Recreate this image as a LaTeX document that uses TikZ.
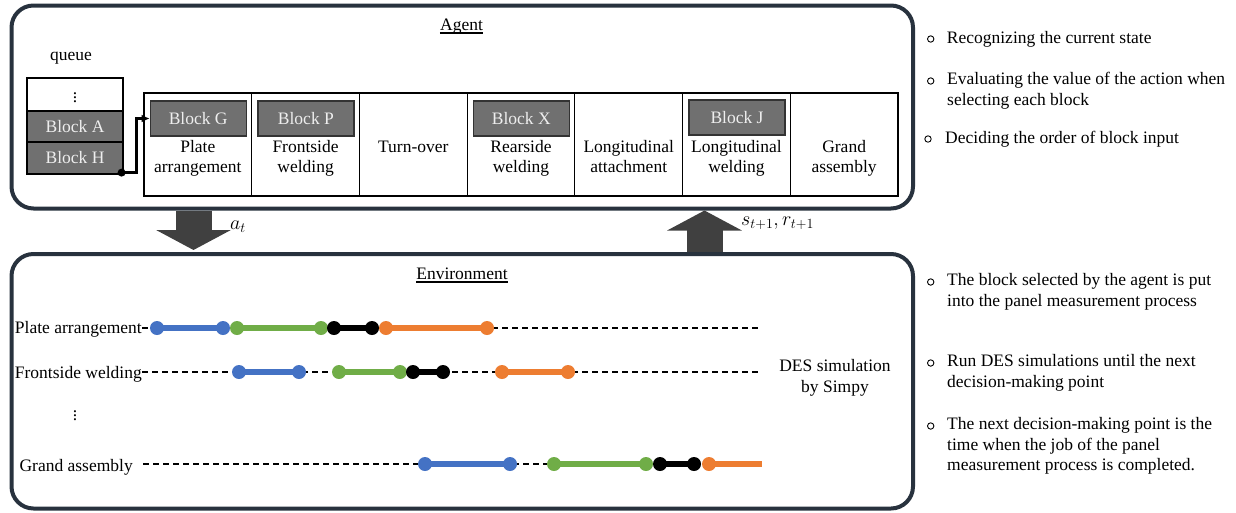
\RequirePackage{fix-cm}
\documentclass[tikz,border=0pt]{standalone}
\usepackage{fontspec}
\setmainfont{Liberation Serif}
\usetikzlibrary{arrows.meta,calc}
\newcommand\myfs{\fontsize{17.5}{20.5}\selectfont}
\newcommand\mathfs{\fontsize{20}{24}\selectfont}
\definecolor{panelc}{RGB}{40,50,62}
\definecolor{arrc}{RGB}{64,64,64}
\definecolor{blkfill}{RGB}{112,112,112}
\definecolor{blktext}{RGB}{238,238,238}
\definecolor{tblue}{RGB}{68,114,196}
\definecolor{tgreen}{RGB}{112,173,71}
\definecolor{torange}{RGB}{237,125,49}
\newcommand\tlseg[4]{%
  \draw[line width=5.5pt,#1] (#2,#4) -- (#3,#4);
  \fill[#1] (#2,#4) circle[radius=7pt] (#3,#4) circle[radius=7pt];}
\begin{document}
\begin{tikzpicture}[x=1pt,y=-1pt,
  panel/.style={draw=panelc, line width=4pt, rounded corners=22pt, inner sep=0pt},
  txt1/.style={font=\myfs, inner sep=0pt, text height=14.35pt, text depth=6.15pt},
  mtxt/.style={font=\mathfs, inner sep=0pt},
  txtm/.style={font=\myfs, inner sep=0pt, align=center},
  rtxt/.style={font=\myfs, inner sep=0pt, align=left, anchor=west},
  qcell/.style={draw, line width=1.2pt, minimum width=96pt, inner sep=0pt, font=\myfs},
  gblk/.style={draw=black!80, line width=1.2pt, fill=blkfill, text=blktext, minimum width=96pt, minimum height=35pt, inner sep=0pt, font=\myfs},
  col/.style={draw, line width=1.2pt, minimum width=107.71pt, minimum height=103pt, inner sep=0pt},
  bigarrow/.style={arrc, line width=36pt, -{Triangle[length=20pt,width=74pt]}},
  dashline/.style={line width=1.2pt, dash pattern=on 6pt off 4pt},
  uline/.style={line width=1.2pt},
  bul/.style={line width=0.9pt}
]
\useasboundingbox (0,0) rectangle (1236,512);

% panels
\node[panel, minimum width=901.5pt, minimum height=203pt] (agent) at (462.25,107) {};
\node[panel, minimum width=901.5pt, minimum height=254.5pt] (env) at (462.25,381.25) {};
\node[txt1] (tA) at (461.5,25.9) {Agent};
\node[txt1] (tE) at (462,274.9) {Environment};
\draw[uline] ($(tA.base west)+(0,3)$) -- ($(tA.base east)+(0,3)$);
\draw[uline] ($(tE.base west)+(0,3)$) -- ($(tE.base east)+(0,3)$);

% queue
\node[txt1] (ql) at (71,55.9) {queue};
\node[qcell, minimum height=33pt, fill=white] (q0) at (75,94.5) {$\vdots$};
\node[qcell, minimum height=31pt, fill=blkfill, text=blktext] (qA) at (75,126.5) {Block A};
\node[qcell, minimum height=32pt, fill=blkfill, text=blktext] (qH) at (75,158) {Block H};

% process table
\node[col] (c1) at (197.86,144.5) {};
\node[col] (c2) at (305.57,144.5) {};
\node[col] (c3) at (413.29,144.5) {};
\node[col] (c4) at (521.00,144.5) {};
\node[col] (c5) at (628.71,144.5) {};
\node[col] (c6) at (736.43,144.5) {};
\node[col] (c7) at (844.14,144.5) {};

\node[gblk] (bG) at (198.2,118.5) {Block G};
\node[gblk] (bP) at (305.9,118.5) {Block P};
\node[gblk] (bX) at (521.3,118.5) {Block X};
\node[gblk] (bJ) at (737.0,117.5) {Block J};

\node[txtm] (p1) at (197.86,158.3) {\strut Plate\\arrangement\strut};
\node[txtm] (p2) at (305.57,158.3) {\strut Frontside\\welding\strut};
\node[txt1] (p3) at (413.29,147.9) {Turn-over};
\node[txtm] (p4) at (521.00,158.3) {\strut Rearside\\welding\strut};
\node[txtm] (p5) at (628.71,158.3) {\strut Longitudinal\\attachment\strut};
\node[txtm] (p6) at (736.43,158.3) {\strut Longitudinal\\welding\strut};
\node[txtm] (p7) at (844.14,158.3) {\strut Grand\\assembly\strut};

% queue arrow
\coordinate (hs) at ($(qH.south east)+(-2,-2)$);
\fill (hs) circle[radius=4pt];
\draw[line width=2.8pt, -{Latex[length=8pt,width=8pt]}] (hs) -- ++(15,0) |- (bG.west);

% big arrows
\coordinate (ax) at (193.5,0);
\coordinate (bx) at (704.5,0);
\draw[bigarrow, shorten >=2pt] (ax |- agent.south) -- (ax |- env.north);
\draw[bigarrow] (bx |- env.north) -- (bx |- agent.south);
\node[mtxt, anchor=base west] (at) at (230,229) {$a_t$};
\node[mtxt, anchor=base west] (sr) at (741,225) {$s_{t+1},r_{t+1}$};

% environment timelines
\coordinate (e1) at (760,328);
\coordinate (e2) at (760,372);
\coordinate (e3) at (762,464);
\node[txt1, anchor=east] (l1) at (142,328.9) {Plate arrangement};
\node[txt1, anchor=east] (l2) at (142,373.9) {Frontside welding};
\node[txt1] (vd) at (75,416) {$\vdots$};
\node[txt1, anchor=east] (l3) at (133,466.9) {Grand assembly};
\draw[dashline] (l1.east |- e1) -- (e1);
\draw[dashline] (l2.east |- e2) -- (e2);
\draw[dashline] ($(l3.east |- e3)+(10,0)$) -- (e3);

\tlseg{tblue}{157}{223}{328}
\tlseg{tgreen}{237}{321}{328}
\tlseg{black}{334}{372}{328}
\tlseg{torange}{386}{487}{328}

\tlseg{tblue}{239}{299}{372}
\tlseg{tgreen}{339}{400}{372}
\tlseg{black}{413}{443}{372}
\tlseg{torange}{502}{568}{372}

\tlseg{tblue}{425}{510}{464}
\tlseg{tgreen}{554}{646}{464}
\tlseg{black}{660}{694}{464}
\draw[torange, line width=5.5pt] (709,464) -- (e3);
\fill[torange] (709,464) circle[radius=7pt];

\node[txtm] (des) at (835,377.9) {\strut DES simulation\\by Simpy\strut};

% right-hand notes
\node[rtxt] (r1) at (946.7,38.9) {\strut Recognizing the current state\strut};
\node[rtxt] (r2) at (947,90.9) {\strut Evaluating the value of the action when\\selecting each block\strut};
\node[rtxt] (r3) at (945,138.9) {\strut Deciding the order of block input\strut};
\node[rtxt] (r4) at (947,291.9) {\strut The block selected by the agent is put\\into the panel measurement process\strut};
\node[rtxt] (r5) at (947,372.9) {\strut Run DES simulations until the next\\decision-making point\strut};
\node[rtxt] (r6) at (947,445.9) {\strut The next decision-making point is the\\time when the job of the panel\\measurement process is completed.\strut};
\foreach \p in {(930.7,39),(930.7,81),(928,139),(930.7,282),(930.7,363),(930.7,426)}
  \draw[bul] \p circle[radius=3.2pt];
\end{tikzpicture}
\end{document}
